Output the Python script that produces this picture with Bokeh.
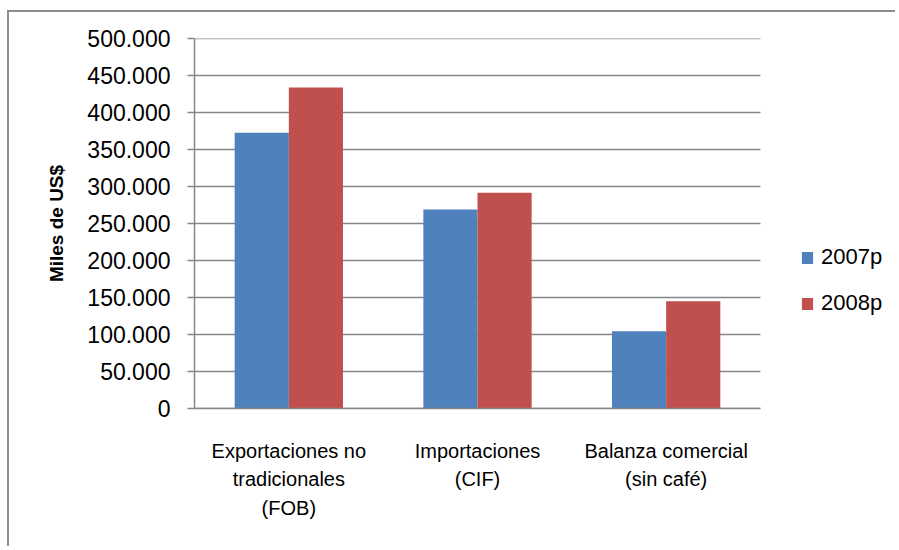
from bokeh.plotting import figure
from bokeh.models import (ColumnDataSource, Legend, LegendItem, FixedTicker, Range1d)
from bokeh.transform import dodge
from bokeh.embed import file_html
from bokeh.resources import INLINE

# ---- data ----
categories = ["Exportaciones no\ntradicionales\n(FOB)", "Importaciones\n(CIF)", "Balanza comercial\n(sin café)"]
series_names = ["2007p", "2008p"]
values_2007 = [372500, 269000, 104300]
values_2008 = [433700, 291400, 144800]
y_ticks = [0, 50000, 100000, 150000, 200000, 250000, 300000, 350000, 400000, 450000, 500000]
y_tick_labels = ["0", "50.000", "100.000", "150.000", "200.000", "250.000",
                 "300.000", "350.000", "400.000", "450.000", "500.000"]
y_axis_title = "Miles de US$"

BLUE = "#4F81BD"
RED = "#C0504D"
GRID = "#868686"
FONT = "Liberation Sans"

n_cat = len(categories)
cat_pos = [i + 0.5 for i in range(n_cat)]          # centre of each category slot
src = ColumnDataSource(dict(x=cat_pos, v2007=values_2007, v2008=values_2008))
grid_src = ColumnDataSource(dict(y=y_ticks, x0=[0] * len(y_ticks), x1=[n_cat] * len(y_ticks)))

# layout: plot area 194..760 px for the 3 categories, legend to its right
FRAME_LEFT, CAT_RIGHT, CANVAS_RIGHT = 194, 760, 897
slot_px = (CAT_RIGHT - FRAME_LEFT) / n_cat
x_end = (CANVAS_RIGHT - FRAME_LEFT) / slot_px

p = figure(x_range=Range1d(0, x_end), y_range=Range1d(0, 500000),
           width=888, height=536, output_backend="svg", toolbar_location=None,
           min_border_left=185, min_border_right=0, min_border_top=26, min_border_bottom=140)
p.styles = {"border-top": "2px solid #8c8c8c", "border-left": "2px solid #8c8c8c",
            "margin-top": "10px", "margin-left": "7px"}
p.outline_line_color = None
p.background_fill_color = "white"
p.border_fill_color = "white"
p.xgrid.grid_line_color = None
p.ygrid.grid_line_color = None

# horizontal gridlines over the category area only
p.segment(x0="x0", x1="x1", y0="y", y1="y", source=grid_src,
          line_color=GRID, line_width=1.5)

r1 = p.vbar(x=dodge("x", -0.1435), top="v2007", width=0.287,
            source=src, fill_color=BLUE, line_color=None)
r2 = p.vbar(x=dodge("x", 0.1435), top="v2008", width=0.287,
            source=src, fill_color=RED, line_color=None)

# y axis
ya = p.yaxis[0]
ya.ticker = FixedTicker(ticks=y_ticks)
ya.major_label_overrides = {t: l for t, l in zip(y_ticks, y_tick_labels)}
ya.major_label_text_font = FONT
ya.major_label_text_font_size = "23px"
ya.major_label_text_color = "black"
ya.major_tick_out = 7
ya.major_tick_in = 0
ya.major_tick_line_color = GRID
ya.major_tick_line_width = 1.5
ya.minor_tick_line_color = None
ya.axis_line_color = GRID
ya.axis_line_width = 1.5
ya.major_label_standoff = 17
ya.axis_label = y_axis_title
ya.axis_label_text_font = FONT
ya.axis_label_text_font_style = "bold"
ya.axis_label_text_font_size = "19px"
ya.axis_label_text_color = "black"
ya.axis_label_standoff = 17

# x axis (category labels)
xa = p.xaxis[0]
xa.ticker = FixedTicker(ticks=cat_pos)
xa.major_label_overrides = {x: c for x, c in zip(cat_pos, categories)}
xa.bounds = (0, n_cat)
xa.axis_line_color = GRID
xa.axis_line_width = 1.5
xa.major_tick_line_color = None
xa.major_tick_out = 0
xa.major_tick_in = 0
xa.minor_tick_line_color = None
xa.major_label_text_font = FONT
xa.major_label_text_font_size = "20px"
xa.major_label_text_color = "black"
xa.major_label_text_line_height = 1.3
xa.major_label_standoff = 31

# legend
legend = Legend(items=[LegendItem(label=series_names[0], renderers=[r1]),
                       LegendItem(label=series_names[1], renderers=[r2])],
                location=(606, 92), orientation="vertical")
legend.label_text_font = FONT
legend.label_text_font_size = "22px"
legend.label_text_color = "black"
legend.glyph_width = 14
legend.glyph_height = 15
legend.label_standoff = 7
legend.label_height = 25
legend.spacing = 20
legend.padding = 0
legend.margin = 0
legend.border_line_color = None
legend.background_fill_alpha = 0
p.add_layout(legend, "center")

open("out.html", "w").write(file_html(p, INLINE))
